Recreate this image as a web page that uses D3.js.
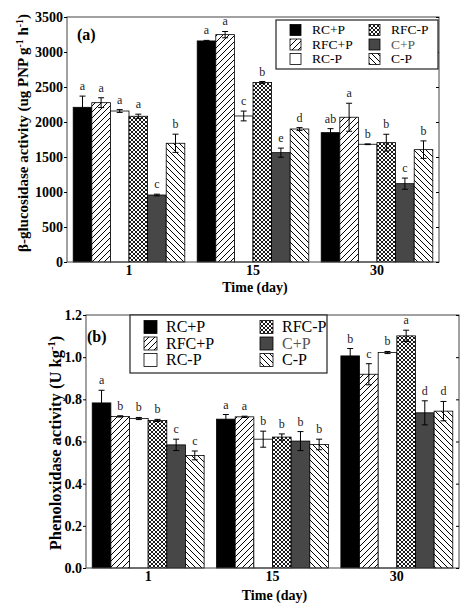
<!DOCTYPE html>
<html>
<head>
<meta charset="utf-8">
<script src="https://cdn.jsdelivr.net/npm/d3@7"></script>
<style>
  html, body { margin: 0; padding: 0; background: #fff; }
  svg text { font-family: "Liberation Serif", "Times New Roman", serif; }
</style>
</head>
<body>
<svg id="chart" width="474" height="611"></svg>
<script>
// ---------- data ----------
const categories = ["1", "15", "30"];
const series = ["RC+P", "RFC+P", "RC-P", "RFC-P", "C+P", "C-P"];

// panel (a) β-glucosidase, per day (values in series order)
const glucMean = [
  [2210, 2276, 2157, 2082, 957, 1696],
  [3158, 3248, 2086, 2563, 1562, 1900],
  [1848, 2068, 1682, 1705, 1119, 1605]
];
const glucErr = [
  [160, 70, 20, 30, 12, 130],
  [8, 45, 70, 15, 65, 20],
  [57, 200, 5, 120, 80, 125]
];
const glucLetters = [
  ["a", "a", "a", "a", "c", "b"],
  ["a", "a", "c", "b", "e", "d"],
  ["ab", "a", "b", "b", "c", "b"]
];
const glucTicks = [0, 500, 1000, 1500, 2000, 2500, 3000, 3500];

// panel (b) phenoloxidase
const phenMean = [
  [0.783, 0.719, 0.709, 0.700, 0.584, 0.534],
  [0.706, 0.717, 0.611, 0.621, 0.602, 0.586],
  [1.006, 0.919, 1.022, 1.101, 0.736, 0.744]
];
const phenErr = [
  [0.060, 0.003, 0.005, 0.005, 0.027, 0.021],
  [0.022, 0.003, 0.038, 0.015, 0.045, 0.025],
  [0.035, 0.050, 0.005, 0.027, 0.057, 0.046]
];
const phenLetters = [
  ["a", "b", "b", "b", "c", "c"],
  ["a", "a", "b", "b", "b", "b"],
  ["b", "c", "b", "a", "d", "d"]
];
const phenTicks = [0, 0.2, 0.4, 0.6, 0.8, 1.0, 1.2];

// ---------- styles ----------
const svg = d3.select("#chart");
const defs = svg.append("defs");

function hatch(id, w, paths, sw) {
  const p = defs.append("pattern").attr("id", id)
    .attr("patternUnits", "userSpaceOnUse").attr("width", w).attr("height", w);
  p.append("rect").attr("width", w).attr("height", w).attr("fill", "#fff");
  p.append("path").attr("d", paths).attr("stroke", "#000").attr("stroke-width", sw).attr("fill", "none");
}
hatch("fwd", 6, "M0,6 L6,0 M-1,1 L1,-1 M5,7 L7,5", 1);
hatch("back", 6, "M0,0 L6,6 M-1,5 L1,7 M5,-1 L7,1", 1);
hatch("cross", 4, "M0,4 L4,0 M-1,1 L1,-1 M3,5 L5,3 M0,0 L4,4 M-1,3 L1,5 M3,-1 L5,1", 0.9);

const fills = ["#000", "url(#fwd)", "#fff", "url(#cross)", "#474747", "url(#back)"];
const legendTextColor = ["#000", "#000", "#000", "#000", "#555", "#000"];

// ---------- panel drawing ----------
function drawPanel(cfg) {
  const g = svg.append("g");
  const x0 = d3.scaleBand().domain(categories)
    .range([cfg.left, cfg.right]).paddingInner(0.1).paddingOuter(0.05);
  const x1 = d3.scaleBand().domain(series).range([0, x0.bandwidth()]);
  const y = d3.scaleLinear().domain(cfg.domain).range([cfg.bottom, cfg.top]);

  // bars
  categories.forEach((c, ci) => {
    series.forEach((s, si) => {
      const v = cfg.mean[ci][si];
      g.append("rect")
        .attr("x", x0(c) + x1(s))
        .attr("y", y(v))
        .attr("width", x1.bandwidth())
        .attr("height", y(cfg.domain[0]) - y(v))
        .attr("fill", fills[si])
        .attr("stroke", "#000")
        .attr("stroke-width", 0.8);
    });
  });

  // error bars + letters
  categories.forEach((c, ci) => {
    series.forEach((s, si) => {
      const v = cfg.mean[ci][si], e = cfg.err[ci][si];
      const cx = x0(c) + x1(s) + x1.bandwidth() / 2;
      g.append("line").attr("x1", cx).attr("x2", cx)
        .attr("y1", y(v - e)).attr("y2", y(v + e))
        .attr("stroke", "#000").attr("stroke-width", 1);
      [v - e, v + e].forEach(w => {
        g.append("line").attr("x1", cx - 3).attr("x2", cx + 3)
          .attr("y1", y(w)).attr("y2", y(w))
          .attr("stroke", "#000").attr("stroke-width", 1);
      });
      g.append("text").attr("x", cx).attr("y", y(v + e) - 6)
        .attr("text-anchor", "middle").attr("font-size", 12)
        .attr("fill", "#222")
        .text(cfg.letters[ci][si]);
    });
  });

  // frame
  g.append("rect").attr("x", cfg.left).attr("y", cfg.top)
    .attr("width", cfg.right - cfg.left).attr("height", cfg.bottom - cfg.top)
    .attr("fill", "none").attr("stroke", "#444").attr("stroke-width", 1);

  // y axis
  const ya = g.append("g").attr("transform", `translate(${cfg.left},0)`)
    .call(d3.axisLeft(y).tickValues(cfg.ticks).tickFormat(cfg.fmt).tickSize(3).tickPadding(1));
  ya.select(".domain").remove();
  ya.selectAll("text").attr("font-size", 14).attr("font-weight", "bold").attr("fill", "#000");
  const yr = g.append("g").attr("transform", `translate(${cfg.right},0)`)
    .call(d3.axisLeft(y).tickValues(cfg.ticks).tickFormat("").tickSize(3));
  yr.select(".domain").remove();

  // x axis labels
  const xa = g.append("g").attr("transform", `translate(0,${cfg.bottom})`)
    .call(d3.axisBottom(x0).tickSize(0).tickPadding(3));
  xa.select(".domain").remove();
  xa.selectAll("text").attr("font-size", 14).attr("font-weight", "bold").attr("fill", "#000");

  g.append("text").attr("x", (cfg.left + cfg.right) / 2 + 2).attr("y", cfg.bottom + cfg.titleDy)
    .attr("text-anchor", "middle").attr("font-size", 14).attr("font-weight", "bold")
    .text("Time (day)");

  // y title
  const yt = g.append("text")
    .attr("transform", `translate(${cfg.yTitleX},${cfg.yTitleY}) rotate(-90)`)
    .attr("text-anchor", "middle").attr("font-size", cfg.yTitleFs).attr("font-weight", "bold");
  cfg.yTitle.forEach(part => {
    const t = yt.append("tspan").text(part.t);
    if (part.sup) t.attr("font-size", cfg.yTitleFs * 0.65).attr("baseline-shift", "super");
  });

  // panel tag
  g.append("text").attr("x", cfg.tag[0]).attr("y", cfg.tag[1])
    .attr("font-size", 16).attr("font-weight", "bold").text(cfg.tagText);

  // legend
  const L = cfg.legend;
  g.append("rect").attr("x", L.x).attr("y", L.y).attr("width", L.w).attr("height", L.h)
    .attr("fill", "#fff").attr("stroke", "#222").attr("stroke-width", 1.2);
  series.forEach((s, si) => {
    const col = Math.floor(si / 3), row = si % 3;
    const sx = L.x + L.colX[col], sy = L.y + L.rowY0 + row * L.rowH;
    g.append("rect").attr("x", sx).attr("y", sy - L.sw / 2).attr("width", L.sw).attr("height", L.sw)
      .attr("fill", fills[si]).attr("stroke", "#000").attr("stroke-width", 0.8);
    g.append("text").attr("x", sx + L.sw + L.gap).attr("y", sy + L.fs * 0.33)
      .attr("font-size", L.fs).attr("fill", legendTextColor[si]).text(s);
  });
}

drawPanel({
  left: 67, right: 439, top: 17, bottom: 262,
  domain: [0, 3500], ticks: glucTicks, fmt: d3.format("d"),
  mean: glucMean, err: glucErr, letters: glucLetters,
  titleDy: 30, yTitleX: 28, yTitleY: 133, yTitleFs: 15,
  yTitle: [{t: "β-glucosidase activity (ug PNP g"}, {t: "-1", sup: true}, {t: " h"}, {t: "-1", sup: true}, {t: ")"}],
  tag: [77, 40], tagText: "(a)",
  legend: {x: 276, y: 20, w: 162, h: 49, colX: [14, 93], rowY0: 10, rowH: 14.5, sw: 11, gap: 11, fs: 13.5}
});

drawPanel({
  left: 86, right: 459, top: 315, bottom: 568,
  domain: [0, 1.2], ticks: phenTicks, fmt: d3.format(".1f"),
  mean: phenMean, err: phenErr, letters: phenLetters,
  titleDy: 32, yTitleX: 61, yTitleY: 443, yTitleFs: 16.5,
  yTitle: [{t: "Phenoloxidase activity (U kg"}, {t: "-1", sup: true}, {t: ")"}],
  tag: [87, 342], tagText: "(b)",
  legend: {x: 130, y: 315, w: 197, h: 58, colX: [14, 130], rowY0: 12, rowH: 16.5, sw: 13, gap: 9, fs: 16}
});
</script>
</body>
</html>
